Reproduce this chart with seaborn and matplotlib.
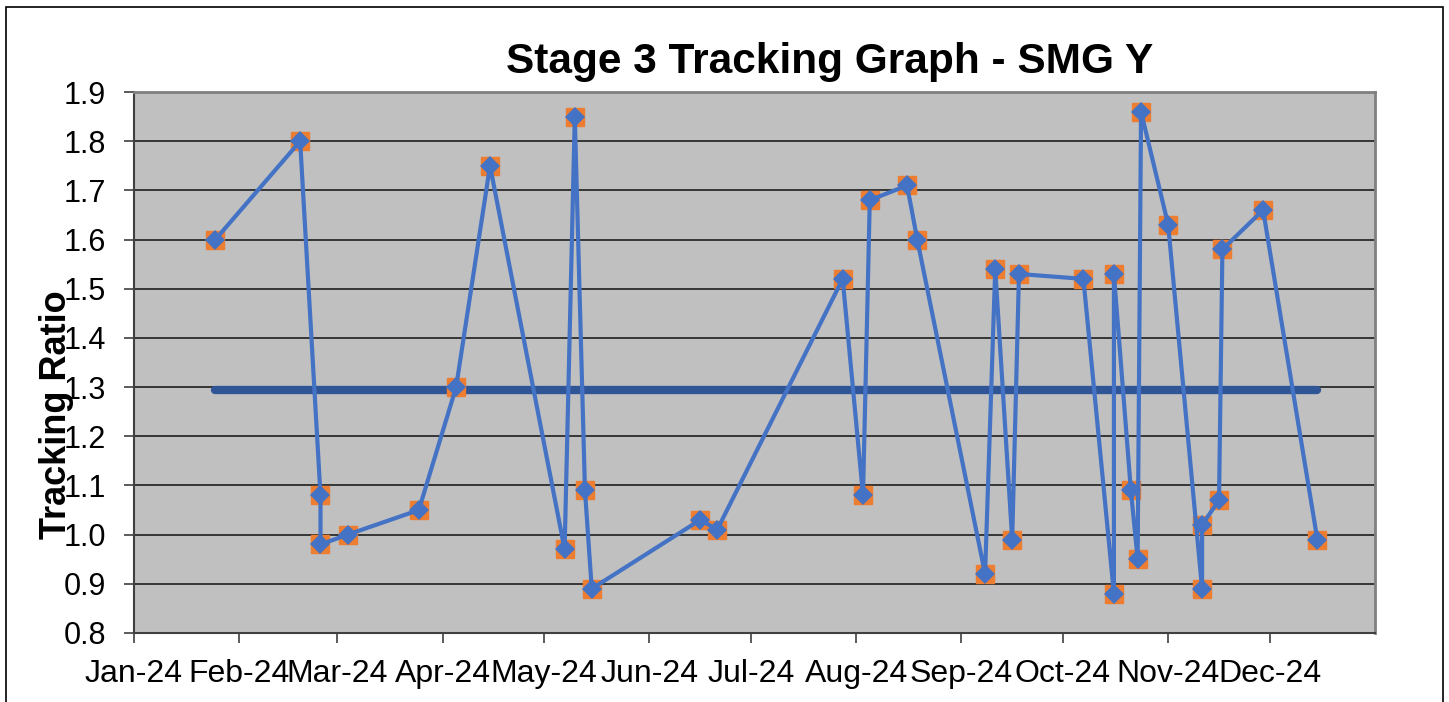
import numpy as np
import pandas as pd
import matplotlib
matplotlib.use("Agg")
import matplotlib.pyplot as plt
import matplotlib.dates as mdates
from matplotlib.patches import Rectangle
import seaborn as sns

# data
dates = ["2024-01-25", "2024-02-19", "2024-02-25", "2024-02-25", "2024-03-04",
         "2024-03-25", "2024-04-05", "2024-04-15", "2024-05-07", "2024-05-10",
         "2024-05-13", "2024-05-15", "2024-06-16", "2024-06-21", "2024-07-28",
         "2024-08-03", "2024-08-05", "2024-08-16", "2024-08-19", "2024-09-08",
         "2024-09-11", "2024-09-16", "2024-09-18", "2024-10-07", "2024-10-16",
         "2024-10-16", "2024-10-21", "2024-10-23", "2024-10-24", "2024-11-01",
         "2024-11-11", "2024-11-11", "2024-11-16", "2024-11-17", "2024-11-29",
         "2024-12-15"]
ratios = [1.60, 1.80, 1.08, 0.98, 1.00,
          1.05, 1.30, 1.75, 0.97, 1.85,
          1.09, 0.89, 1.03, 1.01, 1.52,
          1.08, 1.68, 1.71, 1.60, 0.92,
          1.54, 0.99, 1.53, 1.52, 0.88,
          1.53, 1.09, 0.95, 1.86, 1.63,
          0.89, 1.02, 1.07, 1.58, 1.66,
          0.99]
avg_dates = ["2024-01-25", "2024-12-15"]
avg_values = [1.295, 1.295]
month_ticks = pd.date_range("2024-01-01", "2024-12-01", freq="MS")
y_ticks = [0.8, 0.9, 1.0, 1.1, 1.2, 1.3, 1.4, 1.5, 1.6, 1.7, 1.8, 1.9]

df = pd.DataFrame({"date": pd.to_datetime(dates), "ratio": ratios})
avg_df = pd.DataFrame({"date": pd.to_datetime(avg_dates), "ratio": avg_values})

plt.rcParams["font.family"] = ["Liberation Sans", "DejaVu Sans"]

fig = plt.figure(figsize=(14.49, 7.02), dpi=100)
ax = fig.add_axes([134 / 1449, 1 - 633 / 702, (1375 - 134) / 1449, (633 - 92) / 702])
ax.set_facecolor("#C0C0C0")

# average line
ax.plot(avg_df["date"], avg_df["ratio"], color="#2F5597", lw=6,
        solid_capstyle="round", zorder=3)

# orange squares behind, blue diamond line on top
ax.plot(df["date"], df["ratio"], ls="none", marker="s", ms=13,
        color="#ED7D31", zorder=4)
sns.lineplot(data=df, x="date", y="ratio", sort=False, estimator=None,
             ax=ax, color="#4472C4", lw=3, marker="D", markersize=10,
             markeredgewidth=0, zorder=5)

ax.set_xlim(pd.Timestamp("2024-01-01"), pd.Timestamp("2025-01-01"))
ax.set_ylim(0.8, 1.9)
ax.set_xticks(month_ticks)
ax.xaxis.set_major_formatter(mdates.DateFormatter("%b-%y"))
ax.set_yticks(y_ticks)
ax.set_yticklabels([f"{v:.1f}" for v in y_ticks])
ax.yaxis.grid(True, color="#2b2b2b", lw=1.3)
ax.set_axisbelow(True)
ax.tick_params(axis="both", length=7, width=1.2, color="#404040")
ax.tick_params(axis="y", labelsize=22, pad=13)
ax.tick_params(axis="x", labelsize=23, pad=12)
ax.set_xlabel("")
ax.set_ylabel("")
for side in ["left", "bottom"]:
    ax.spines[side].set_color("#404040")
    ax.spines[side].set_linewidth(1.5)
for side in ["top", "right"]:
    ax.spines[side].set_color("#808080")
    ax.spines[side].set_linewidth(2)

fig.text(830 / 1449, 1 - 73 / 702, "Stage 3 Tracking Graph - SMG Y",
         ha="center", va="baseline", fontsize=30.5, fontweight="bold")
fig.text(57 / 1449, 1 - 415 / 702, "Tracking Ratio", rotation=90,
         ha="center", va="center", fontsize=26, fontweight="bold")

fig.patches.append(Rectangle((6 / 1449, -0.05), (1443 - 6) / 1449, 1.05 - 7 / 702,
                             transform=fig.transFigure, fill=False,
                             edgecolor="black", lw=1.2))

fig.savefig("out.png", dpi=100)
